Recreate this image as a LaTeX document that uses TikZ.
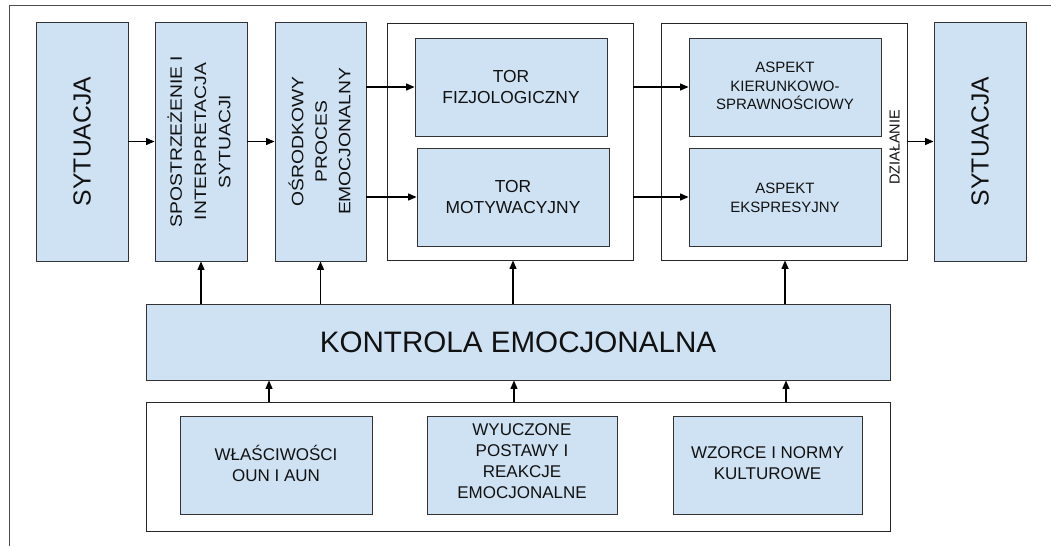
\documentclass[tikz,border=0pt]{standalone}
\usepackage{fontspec}
\setmainfont{Liberation Sans}
\usetikzlibrary{arrows.meta,positioning}
\definecolor{boxfill}{HTML}{CFE2F3}
\definecolor{boxline}{HTML}{333333}
\definecolor{txt}{HTML}{111111}
\tikzset{
  bluebox/.style={draw=boxline, line width=0.9pt, fill=boxfill, inner sep=0pt, rectangle},
  groupbox/.style={draw=black!85, line width=0.9pt, fill=white, inner sep=0pt, rectangle},
  lbl/.style={text=txt, align=center, inner sep=0pt},
  arr/.style={draw=black, line width=1.3pt, -{Triangle[length=8.5pt,width=7pt]}},
}
\begin{document}
\begin{tikzpicture}[x=1pt,y=-1pt]
\useasboundingbox (0,0) rectangle (1051,546);
% outer frame (cropped)
\draw[draw=black!70, line width=1pt] (9,546) -- (9,5) -- (1051,5);

% group boxes
\node[groupbox, minimum width=246pt, minimum height=237pt] (g1) at (510,141.5) {};
\node[groupbox, minimum width=246pt, minimum height=237pt] (g2) at (784,141.5) {};
\node[groupbox, minimum width=744pt, minimum height=129pt] (gb) at (518,466.5) {};

% top row
\node[bluebox, minimum width=92pt, minimum height=239pt] (sit1) at (82,141.5) {};
\node[lbl, rotate=90, font=\fontsize{24.7}{28}\selectfont] (sit1t) at (sit1.center) {SYTUACJA};

\node[bluebox, minimum width=92pt, minimum height=239pt] (spo) at (201,141.5) {};
\node[lbl, rotate=90, xscale=1.17, font=\fontsize{16.5}{24.3}\selectfont] (spot) at ([xshift=-2pt]spo.center) {SPOSTRZEŻENIE I\\INTERPRETACJA\\SYTUACJI};

\node[bluebox, minimum width=91pt, minimum height=239pt] (osr) at (320.5,141.5) {};
\node[lbl, rotate=90, xscale=1.17, font=\fontsize{16.5}{23.5}\selectfont] (osrt) at ([xshift=-1pt]osr.center) {OŚRODKOWY\\PROCES\\EMOCJONALNY};

\node[bluebox, minimum width=192pt, minimum height=98pt] (tf) at (511,87) {};
\node[lbl, font=\fontsize{17.4}{21.7}\selectfont] (tft) at (tf.center) {TOR\\FIZJOLOGICZNY};
\node[bluebox, minimum width=192pt, minimum height=98pt] (tm) at (513,197) {};
\node[lbl, font=\fontsize{17.4}{21.7}\selectfont] (tmt) at (tm.center) {TOR\\MOTYWACYJNY};

\node[bluebox, minimum width=192pt, minimum height=98pt] (ak) at (785,87) {};
\node[lbl, font=\fontsize{15}{18.7}\selectfont] (akt) at ([yshift=1pt]ak.center) {ASPEKT\\KIERUNKOWO-\\SPRAWNOŚCIOWY};
\node[bluebox, minimum width=192pt, minimum height=98pt] (ae) at (785,197) {};
\node[lbl, font=\fontsize{15}{18.5}\selectfont] (aet) at ([yshift=-1pt]ae.center) {ASPEKT\\EKSPRESYJNY};

\node[lbl, rotate=90, font=\fontsize{14.5}{17}\selectfont] (dz) at (894.5,147.5) {DZIAŁANIE};

\node[bluebox, minimum width=92pt, minimum height=239pt] (sit2) at (980,141.5) {};
\node[lbl, rotate=90, font=\fontsize{24.7}{28}\selectfont] (sit2t) at (sit2.center) {SYTUACJA};

% control
\node[bluebox, minimum width=744pt, minimum height=76pt] (k) at (518,342) {};
\node[lbl, font=\fontsize{29.6}{34}\selectfont] (kt) at (k.center) {KONTROLA EMOCJONALNA};

% bottom row
\node[bluebox, minimum width=192pt, minimum height=98pt] (w1) at (276,465) {};
\node[lbl, font=\fontsize{17}{20.8}\selectfont] (w1t) at ([yshift=1.5pt]w1.center) {WŁAŚCIWOŚCI\\OUN I AUN};
\node[bluebox, minimum width=190pt, minimum height=98pt] (w2) at (522,465) {};
\node[lbl, font=\fontsize{17}{21.2}\selectfont] (w2t) at ([yshift=4pt]w2.center) {WYUCZONE\\POSTAWY I\\REAKCJE\\EMOCJONALNE};
\node[bluebox, minimum width=189pt, minimum height=98pt] (w3) at (767.5,465) {};
\node[lbl, font=\fontsize{17}{20.8}\selectfont] (w3t) at ([yshift=1.5pt]w3.center) {WZORCE I NORMY\\KULTUROWE};

% horizontal arrows
\draw[arr] (sit1.east) -- (spo.west);
\draw[arr] (spo.east) -- (osr.west);
\draw[arr] (osr.east |- tf.west) -- (tf.west);
\draw[arr] (osr.east |- tm.west) -- (tm.west);
\draw[arr] (g1.east |- ak.west) -- (ak.west);
\draw[arr] (g1.east |- ae.west) -- (ae.west);
\draw[arr] (g2.east) -- (sit2.west);

% control arrows up
\draw[arr] (k.north -| spo.south) -- (spo.south);
\draw[arr] (k.north -| osr.south) -- (osr.south);
\draw[arr] (k.north -| tm.south) -- (tm.south |- g1.south);
\draw[arr] (k.north -| ak.south) -- (ak.south |- g2.south);

% bottom arrows up
\draw[arr] ([xshift=-249pt]gb.north) -- ([xshift=-249pt]k.south);
\draw[arr] ([xshift=-4pt]gb.north) -- ([xshift=-4pt]k.south);
\draw[arr] ([xshift=268pt]gb.north) -- ([xshift=268pt]k.south);
\end{tikzpicture}
\end{document}
